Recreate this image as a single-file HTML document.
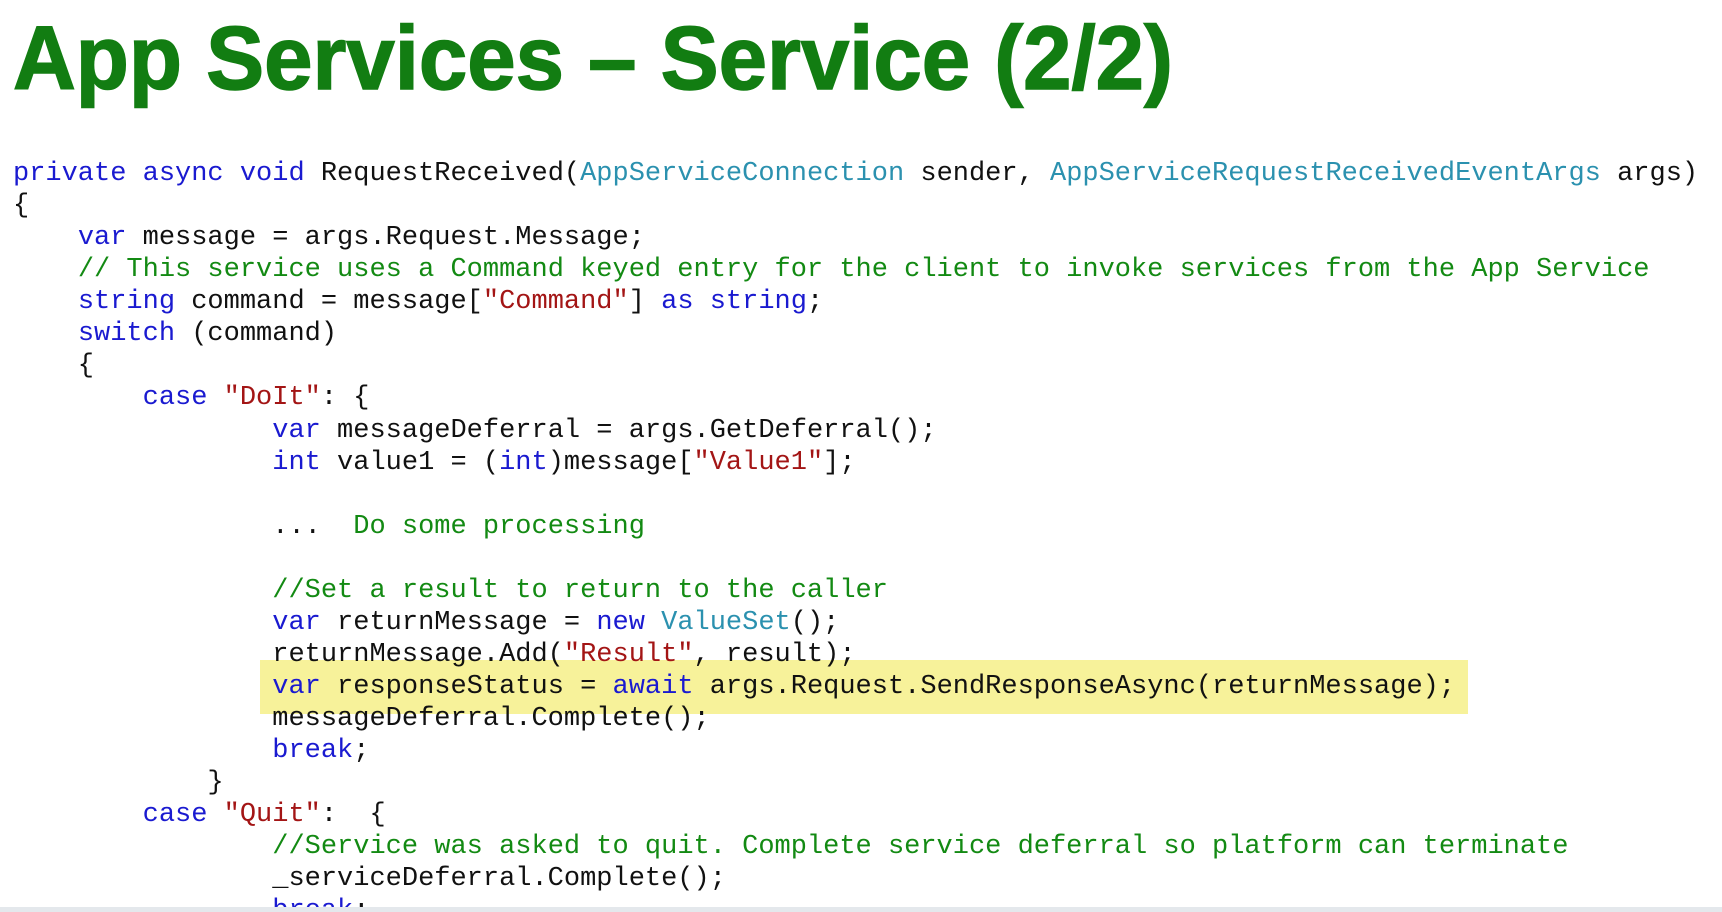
<!DOCTYPE html>
<html><head><meta charset="utf-8"><style>
html,body{margin:0;padding:0;width:1722px;height:912px;overflow:hidden;background:#fff;position:relative}
.hl{position:absolute;left:260px;top:660px;width:1208px;height:54px;background:#f7f29a}
pre{position:absolute;left:13px;top:158px;margin:0;font-family:"Liberation Mono",monospace;font-size:27px;line-height:32.07px;color:#111;}
.k{color:#1a1ad0}.t{color:#2b91af}.s{color:#a31515}.c{color:#138a13}
.bar{position:absolute;left:0;top:907px;width:1722px;height:5px;background:#e4e8ec}
</style></head><body>
<svg style="position:absolute;left:0;top:0" width="1722" height="130">
<text x="13" y="89" textLength="1160" lengthAdjust="spacingAndGlyphs" font-family="Liberation Sans, sans-serif" font-weight="bold" font-size="90" fill="#127d12" stroke="#127d12" stroke-width="1.5">App Services – Service (2/2)</text>
</svg>
<div class="hl"></div>
<pre><span class="k">private</span> <span class="k">async</span> <span class="k">void</span> RequestReceived(<span class="t">AppServiceConnection</span> sender, <span class="t">AppServiceRequestReceivedEventArgs</span> args)
{
    <span class="k">var</span> message = args.Request.Message;
    <span class="c">// This service uses a Command keyed entry for the client to invoke services from the App Service</span>
    <span class="k">string</span> command = message[<span class="s">"Command"</span>] <span class="k">as</span> <span class="k">string</span>;
    <span class="k">switch</span> (command)
    {
        <span class="k">case</span> <span class="s">"DoIt"</span>: {
                <span class="k">var</span> messageDeferral = args.GetDeferral();
                <span class="k">int</span> value1 = (<span class="k">int</span>)message[<span class="s">"Value1"</span>];

                ...  <span class="c">Do some processing</span>

                <span class="c">//Set a result to return to the caller</span>
                <span class="k">var</span> returnMessage = <span class="k">new</span> <span class="t">ValueSet</span>();
                returnMessage.Add(<span class="s">"Result"</span>, result);
                <span class="k">var</span> responseStatus = <span class="k">await</span> args.Request.SendResponseAsync(returnMessage);
                messageDeferral.Complete();
                <span class="k">break</span>;
            }
        <span class="k">case</span> <span class="s">"Quit"</span>:  {
                <span class="c">//Service was asked to quit. Complete service deferral so platform can terminate</span>
                _serviceDeferral.Complete();
                <span class="k">break</span>;
</pre>
<div class="bar"></div>
</body></html>
